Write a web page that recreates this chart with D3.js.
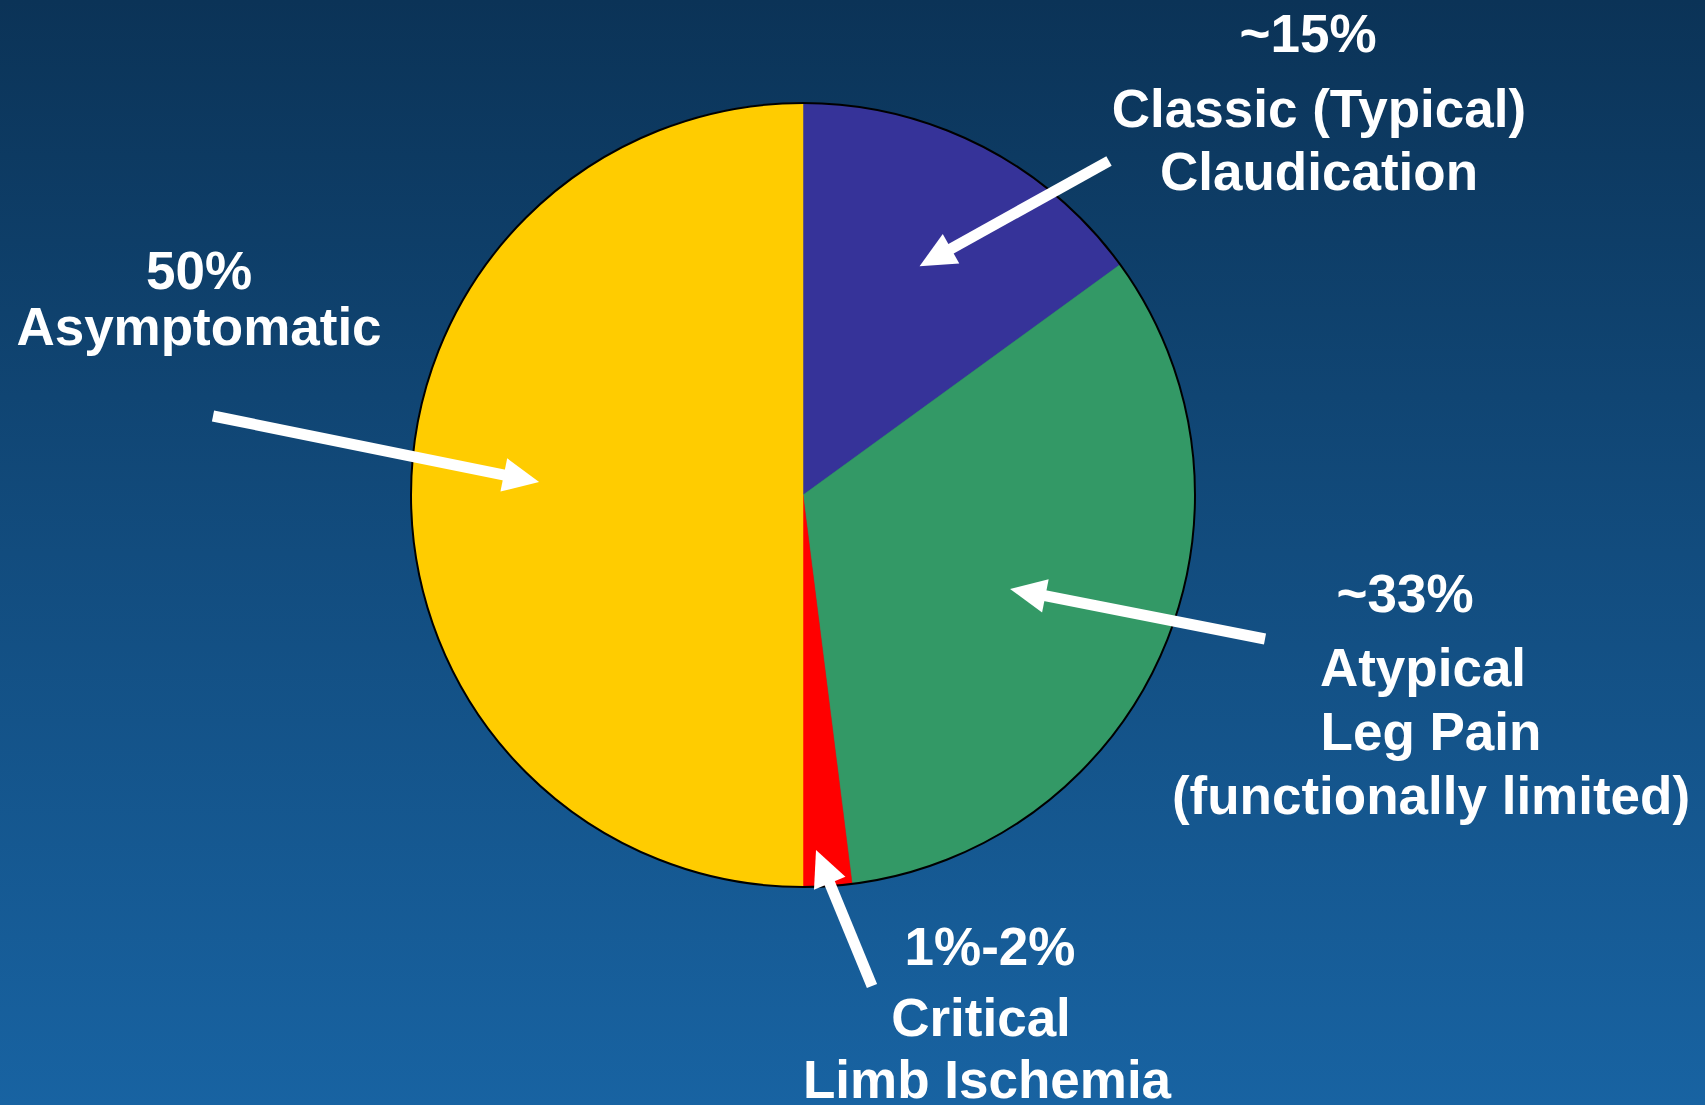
<!DOCTYPE html>
<html><head><meta charset="utf-8">
<script src="https://cdn.jsdelivr.net/npm/d3@7"></script>
<style>html,body{margin:0;padding:0;overflow:hidden;background:#114a7b}</style>
</head><body><svg id="chart" width="1705" height="1105"></svg>
<script>
// ---- data ----
const categories = ["Classic (Typical) Claudication", "Atypical Leg Pain (functionally limited)", "Critical Limb Ischemia", "Asymptomatic"];
const shares = [15, 33, 2, 50];
const percentLabels = ["~15%", "~33%", "1%-2%", "50%"];
const labelLines = [
  ["Classic (Typical)", "Claudication"],
  ["Atypical", "Leg Pain", "(functionally limited)"],
  ["Critical", "Limb Ischemia"],
  ["Asymptomatic"]
];
const sliceColors = ["#363399", "#339966", "#ff0000", "#ffcc00"];

// ---- layout (positions / styles) ----
const W = 1705, H = 1105;
const cx = 803, cy = 495, R = 392;
const labelLayout = [
  {x: [1308, 1319, 1319], y: [52, 127, 190]},
  {x: [1405, 1423, 1431, 1431], y: [612, 686, 750, 814]},
  {x: [990, 981, 987], y: [965, 1036, 1098]},
  {x: [199, 199], y: [289, 345]}
];
// arrow tip: fraction of radius + angle offset (deg) from slice middle; tail in px
const arrowLayout = [
  {k: 0.655, dA: 0, tail: [1109, 161]},
  {k: 0.58, dA: 1.0, tail: [1265, 639]},
  {k: 0.906, dA: 1.5, tail: [872, 986]},
  {k: 0.674, dA: 2.8, tail: [213, 416]}
];

const svg = d3.select("#chart");
const defs = svg.append("defs");
const grad = defs.append("linearGradient").attr("id", "bg").attr("x1", 0).attr("y1", 0).attr("x2", 0).attr("y2", 1);
grad.append("stop").attr("offset", "0%").attr("stop-color", "#0b3357");
grad.append("stop").attr("offset", "50%").attr("stop-color", "#124c7e");
grad.append("stop").attr("offset", "100%").attr("stop-color", "#1863a2");
svg.append("rect").attr("width", W).attr("height", H).attr("fill", "url(#bg)");

const pie = d3.pie().sort(null).value(d => d);
const arcs = pie(shares);
const arc = d3.arc().innerRadius(0).outerRadius(R);

const g = svg.append("g").attr("transform", `translate(${cx},${cy})`);
g.selectAll("path.slice").data(arcs).enter().append("path")
  .attr("class", "slice")
  .attr("d", arc)
  .attr("fill", (d, i) => sliceColors[i])
  .attr("stroke", (d, i) => sliceColors[i])
  .attr("stroke-width", 0.5);
g.append("circle").attr("r", R).attr("fill", "none").attr("stroke", "#000").attr("stroke-width", 2);

// arrows
const headLen = 36, headW = 34, lw = 11;
arcs.forEach((d, i) => {
  const a = arrowLayout[i];
  const mid = (d.startAngle + d.endAngle) / 2 + a.dA * Math.PI / 180;
  const tip = [cx + a.k * R * Math.sin(mid), cy - a.k * R * Math.cos(mid)];
  const tail = a.tail;
  const dx = tip[0] - tail[0], dy = tip[1] - tail[1];
  const len = Math.hypot(dx, dy);
  const ux = dx / len, uy = dy / len;
  const px = -uy, py = ux;
  const base = [tip[0] - ux * headLen, tip[1] - uy * headLen];
  svg.append("line")
    .attr("x1", tail[0]).attr("y1", tail[1])
    .attr("x2", base[0] + ux * 2).attr("y2", base[1] + uy * 2)
    .attr("stroke", "#fff").attr("stroke-width", lw);
  svg.append("polygon")
    .attr("points", [tip, [base[0] + px * headW / 2, base[1] + py * headW / 2], [base[0] - px * headW / 2, base[1] - py * headW / 2]].map(p => p.join(",")).join(" "))
    .attr("fill", "#fff");
});

// labels
categories.forEach((c, i) => {
  const L = labelLayout[i];
  const lines = [percentLabels[i]].concat(labelLines[i]);
  const t = svg.append("g").attr("class", "label");
  lines.forEach((s, j) => {
    t.append("text")
      .attr("x", L.x[j]).attr("y", L.y[j])
      .attr("text-anchor", "middle")
      .attr("font-family", "'Liberation Sans', Arial, sans-serif")
      .attr("font-weight", "bold")
      .attr("font-size", 53)
      .attr("fill", "#fff")
      .text(s);
  });
});
</script></body></html>
